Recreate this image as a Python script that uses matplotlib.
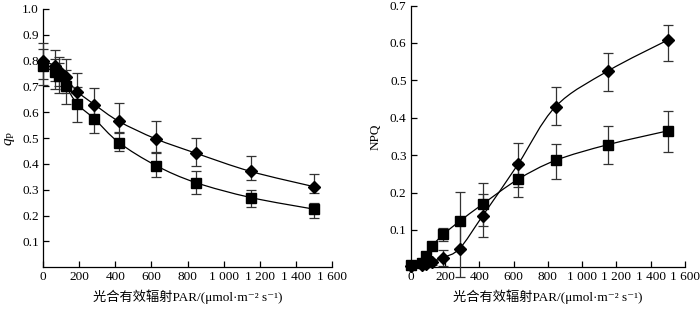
import numpy as np
import matplotlib
matplotlib.use("Agg")
import matplotlib.pyplot as plt
from matplotlib.path import Path
from matplotlib.patches import PathPatch

plt.rcParams['font.family'] = ['Liberation Serif', 'Noto Sans CJK SC', 'DejaVu Serif']
plt.rcParams['mathtext.fontset'] = 'custom'
plt.rcParams['mathtext.it'] = 'Liberation Serif:italic'
plt.rcParams['mathtext.rm'] = 'Liberation Serif'
plt.rcParams['font.size'] = 9.5

# PAR levels (µmol m-2 s-1)
par = [0, 65, 90, 125, 190, 285, 420, 625, 845, 1150, 1500]

# qP, diamond series
qp_d = [0.80, 0.78, 0.76, 0.735, 0.68, 0.63, 0.565, 0.497, 0.442, 0.371, 0.312]
qp_d_lo = [0.07, 0.06, 0.06, 0.06, 0.06, 0.065, 0.045, 0.05, 0.049, 0.033, 0.025]
qp_d_hi = [0.07, 0.06, 0.055, 0.073, 0.073, 0.065, 0.072, 0.07, 0.06, 0.058, 0.05]

# qP, square series
qp_s = [0.78, 0.755, 0.74, 0.703, 0.632, 0.574, 0.483, 0.394, 0.328, 0.270, 0.225]
qp_s_lo = [0.075, 0.065, 0.065, 0.07, 0.07, 0.055, 0.033, 0.045, 0.045, 0.035, 0.033]
qp_s_hi = [0.065, 0.05, 0.05, 0.06, 0.065, 0.06, 0.04, 0.05, 0.045, 0.03, 0.023]

# NPQ, diamond series
npq_d = [0.003, 0.005, 0.008, 0.014, 0.026, 0.05, 0.138, 0.275, 0.43, 0.525, 0.608]
npq_d_lo = [0.003, 0.005, 0.006, 0.008, 0.023, 0.075, 0.057, 0.06, 0.05, 0.054, 0.057]
npq_d_hi = [0.003, 0.005, 0.006, 0.008, 0.02, 0.07, 0.057, 0.057, 0.053, 0.047, 0.04]

# NPQ, square series
npq_s = [0.005, 0.012, 0.03, 0.057, 0.088, 0.123, 0.169, 0.235, 0.286, 0.328, 0.365]
npq_s_lo = [0.004, 0.005, 0.01, 0.01, 0.018, 0.078, 0.058, 0.047, 0.05, 0.053, 0.057]
npq_s_hi = [0.004, 0.005, 0.01, 0.01, 0.018, 0.078, 0.056, 0.047, 0.044, 0.05, 0.053]

xticks = [0, 200, 400, 600, 800, 1000, 1200, 1400, 1600]
xticklabels = ['0', '200', '400', '600', '800', '1 000', '1 200', '1 400', '1 600']
xlabel = '光合有效辐射PAR/(μmol·m⁻² s⁻¹)'


def smooth_line(ax, x, y):
    # Catmull-Rom through the points, drawn as cubic Bezier segments
    x = np.asarray(x, float)
    y = np.asarray(y, float)
    pts = np.column_stack([x, y])
    verts = [pts[0]]
    codes = [Path.MOVETO]
    n = len(pts)
    for i in range(n - 1):
        p0 = pts[i - 1] if i > 0 else pts[i]
        p1 = pts[i]
        p2 = pts[i + 1]
        p3 = pts[i + 2] if i + 2 < n else pts[i + 1]
        c1 = p1 + (p2 - p0) / 6.0
        c2 = p2 - (p3 - p1) / 6.0
        verts += [c1, c2, p2]
        codes += [Path.CURVE4] * 3
    ax.add_patch(PathPatch(Path(verts, codes), fill=False, lw=0.9,
                           edgecolor='black', zorder=2))


def draw_series(ax, y, lo, hi, marker, ms):
    smooth_line(ax, par, y)
    ax.errorbar(par, y, yerr=[lo, hi], fmt='none', ecolor='#333333',
                elinewidth=0.9, capsize=3.5, capthick=0.9, zorder=3,
                clip_on=False)
    ax.plot(par, y, linestyle='none', marker=marker, ms=ms, color='black',
            zorder=4, clip_on=False)


def style_axes(ax, ymax, yticks):
    ax.set_xlim(0, 1600)
    ax.set_ylim(0, ymax)
    ax.set_xticks(xticks)
    ax.set_xticklabels(xticklabels)
    ax.set_yticks(yticks)
    ax.set_yticklabels([f'{t:.1f}' for t in yticks])
    ax.spines['top'].set_visible(False)
    ax.spines['right'].set_visible(False)
    for s in ('left', 'bottom'):
        ax.spines[s].set_linewidth(0.9)
    ax.tick_params(direction='in', length=4, width=0.9, pad=3)
    ax.set_xlabel(xlabel, labelpad=4)


fig = plt.figure(figsize=(7.0, 3.09), dpi=100)
ax1 = fig.add_axes([0.0614, 0.135, 0.413, 0.836])
ax2 = fig.add_axes([0.5867, 0.135, 0.392, 0.847])

draw_series(ax1, qp_d, qp_d_lo, qp_d_hi, 'D', 5.8)
draw_series(ax1, qp_s, qp_s_lo, qp_s_hi, 's', 6.5)
style_axes(ax1, 1.0, [0.1, 0.2, 0.3, 0.4, 0.5, 0.6, 0.7, 0.8, 0.9, 1.0])
ax1.set_ylabel(r'$q_\mathrm{P}$', fontsize=11, labelpad=4)

draw_series(ax2, npq_d, npq_d_lo, npq_d_hi, 'D', 5.8)
draw_series(ax2, npq_s, npq_s_lo, npq_s_hi, 's', 6.5)
style_axes(ax2, 0.7, [0.1, 0.2, 0.3, 0.4, 0.5, 0.6, 0.7])
ax2.set_ylabel('NPQ', labelpad=6)

fig.savefig('out.png', dpi=100)
